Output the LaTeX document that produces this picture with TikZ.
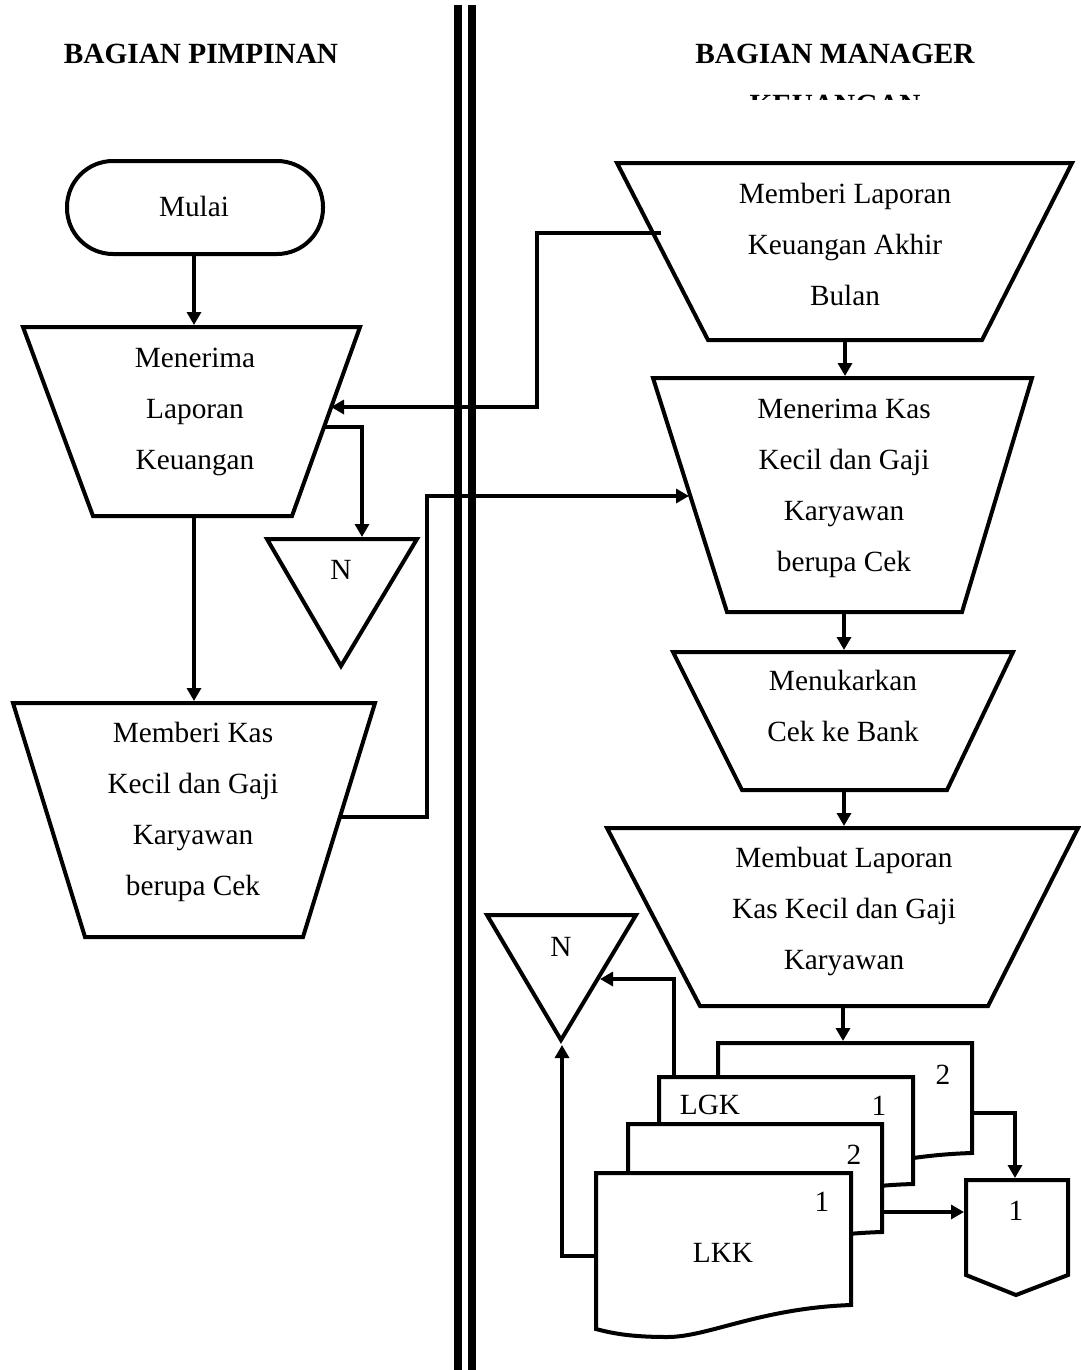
\documentclass[tikz,border=0pt]{standalone}
\usepackage{fontspec}
\setmainfont{Liberation Serif}
\usetikzlibrary{arrows.meta}

% document symbol with a wavy lower edge:
% #1 left, #2 right, #3 top, #4 lower right corner, #5 depth of the wave
\newcommand\docshape[5]{%
  \pgfmathsetmacro\docw{#2-#1}%
  \draw[shapeline,fill=white] (#1,#3) -- (#2,#3) -- (#2,#4)
    .. controls ({#2-0.357*\docw},{#4+0.1*#5}) and ({#1+0.44*\docw},{#4+#5}) .. ({#1+0.28*\docw},{#4+#5})
    .. controls ({#1+0.13*\docw},{#4+#5}) and ({#1+0.06*\docw},{#4+0.875*#5}) .. (#1,{#4+0.75*#5}) -- cycle;
}

\begin{document}
\begin{tikzpicture}[x=1pt,y=-1pt,
  shapeline/.style={line width=4pt, line join=miter},
  flow/.style={line width=3.5pt, -{Triangle[length=13pt,width=14pt]}},
  txt/.style={font=\fontsize{29.3}{51}\selectfont, align=center, inner sep=0pt},
  head/.style={font=\bfseries\fontsize{29.3}{51}\selectfont, inner sep=0pt, anchor=base},
]
\useasboundingbox[fill=white] (0,0) rectangle (1081,1370);

% lane divider
\fill (454,5) rectangle (462,1370);
\fill (468,5) rectangle (476,1370);

% lane headings
\node[head] (hpim) at (201,64) {BAGIAN PIMPINAN};
\node[head] (hman) at (835,64) {BAGIAN MANAGER};
\begin{scope}
  \clip (600,0) rectangle (1081,100);
  \node[head] (hkeu) at (835,115) {KEUANGAN};
\end{scope}

% ---------- left lane ----------
\draw[shapeline,rounded corners=46pt] (67,161) rectangle (323,254);
\node[txt] (mulai) at (194,206) {Mulai};

\draw[shapeline] (23,327) -- (360,327) -- (292,516) -- (93,516) -- cycle;
\node[txt] (terima) at (195,408.5) {\strut Menerima\\Laporan\\Keuangan\strut};

\draw[shapeline] (13,703) -- (375,703) -- (303,937) -- (85,937) -- cycle;
\node[txt] (beri) at (193,808.5) {\strut Memberi Kas\\Kecil dan Gaji\\Karyawan\\berupa Cek\strut};

\draw[shapeline] (267,539) -- (417,539) -- (341,666) -- cycle;
\node[txt] (nA) at (341,570) {N};

\coordinate (mulaiS) at (194,254);
\coordinate (terimaN) at (194,325);
\coordinate (terimaS) at (194,516);
\coordinate (beriN) at (194,701);
\coordinate (terimaE) at (324,427);
\coordinate (nAN) at (362,537);
\coordinate (terimaIn) at (331,407);
\coordinate (beriE) at (340,817);

\draw[flow] (mulaiS) -- (terimaN);
\draw[flow] (terimaS) -- (beriN);
\draw[flow] (terimaE) -| (nAN);

% ---------- right lane ----------
\draw[shapeline] (617,163) -- (1072,163) -- (982,340) -- (708,340) -- cycle;
\node[txt] (lapor) at (845,244.5) {\strut Memberi Laporan\\Keuangan Akhir\\Bulan\strut};

\draw[shapeline] (653,378) -- (1032,378) -- (962,612) -- (727,612) -- cycle;
\node[txt] (kas) at (844,484.5) {\strut Menerima Kas\\Kecil dan Gaji\\Karyawan\\berupa Cek\strut};

\draw[shapeline] (673,652) -- (1013,652) -- (947,790) -- (742,790) -- cycle;
\node[txt] (tukar) at (843,705.5) {\strut Menukarkan\\Cek ke Bank\strut};

\draw[shapeline] (607,828) -- (1078,828) -- (988,1006) -- (700,1006) -- cycle;
\node[txt] (buat) at (844,908.5) {\strut Membuat Laporan\\Kas Kecil dan Gaji\\Karyawan\strut};

\coordinate (laporW) at (661,233);
\coordinate (laporS) at (845,340);
\coordinate (kasN) at (845,376);
\coordinate (kasS) at (844,612);
\coordinate (kasW) at (689,496);
\coordinate (tukarN) at (844,650);
\coordinate (tukarS) at (844,790);
\coordinate (buatN) at (844,826);
\coordinate (buatS) at (843,1006);
\coordinate (lgkN) at (843,1041);

\draw[flow] (laporS) -- (kasN);
\draw[flow] (kasS) -- (tukarN);
\draw[flow] (tukarS) -- (buatN);
\draw[flow] (buatS) -- (lgkN);

% connectors between the lanes
\draw[flow] (laporW) -- (537,233) -- (537,407) -- (terimaIn);
\draw[flow] (beriE) -- (427,817) -- (427,496) -- (kasW);

% report documents, back to front
\docshape{718}{972}{1043}{1153}{27}
\docshape{659}{913}{1077}{1184}{26}
\docshape{628}{882}{1124}{1232}{26}
\docshape{596}{851}{1173}{1305}{32}

\node[txt] (lgk2) at (943,1075) {2};
\node[txt] (lgk) at (710,1105) {LGK};
\node[txt] (lgk1) at (879,1106) {1};
\node[txt] (lkk2) at (854,1155) {2};
\node[txt] (lkk1) at (822,1202) {1};
\node[txt] (lkk) at (723,1253) {LKK};

% archive triangle
\draw[shapeline] (487,915) -- (636,915) -- (561,1040) -- cycle;
\node[txt] (nB) at (561,947) {N};

% off-page connector
\draw[shapeline] (966,1180) -- (1068,1180) -- (1068,1275) -- (1016,1295) -- (966,1275) -- cycle;
\node[txt] (hub) at (1016,1211) {1};

\coordinate (lgkTop) at (674,1075);
\coordinate (nBE) at (600,979);
\coordinate (lkkW) at (596,1256);
\coordinate (nBS) at (562,1045);
\coordinate (lgk2E) at (972,1113);
\coordinate (hubN) at (1015,1178);
\coordinate (lkk2E) at (882,1212);
\coordinate (hubW) at (964,1212);

\draw[flow] (lgkTop) |- (nBE);
\draw[flow] (lkkW) -| (nBS);
\draw[flow] (lgk2E) -| (hubN);
\draw[flow] (lkk2E) -- (hubW);
\end{tikzpicture}
\end{document}
